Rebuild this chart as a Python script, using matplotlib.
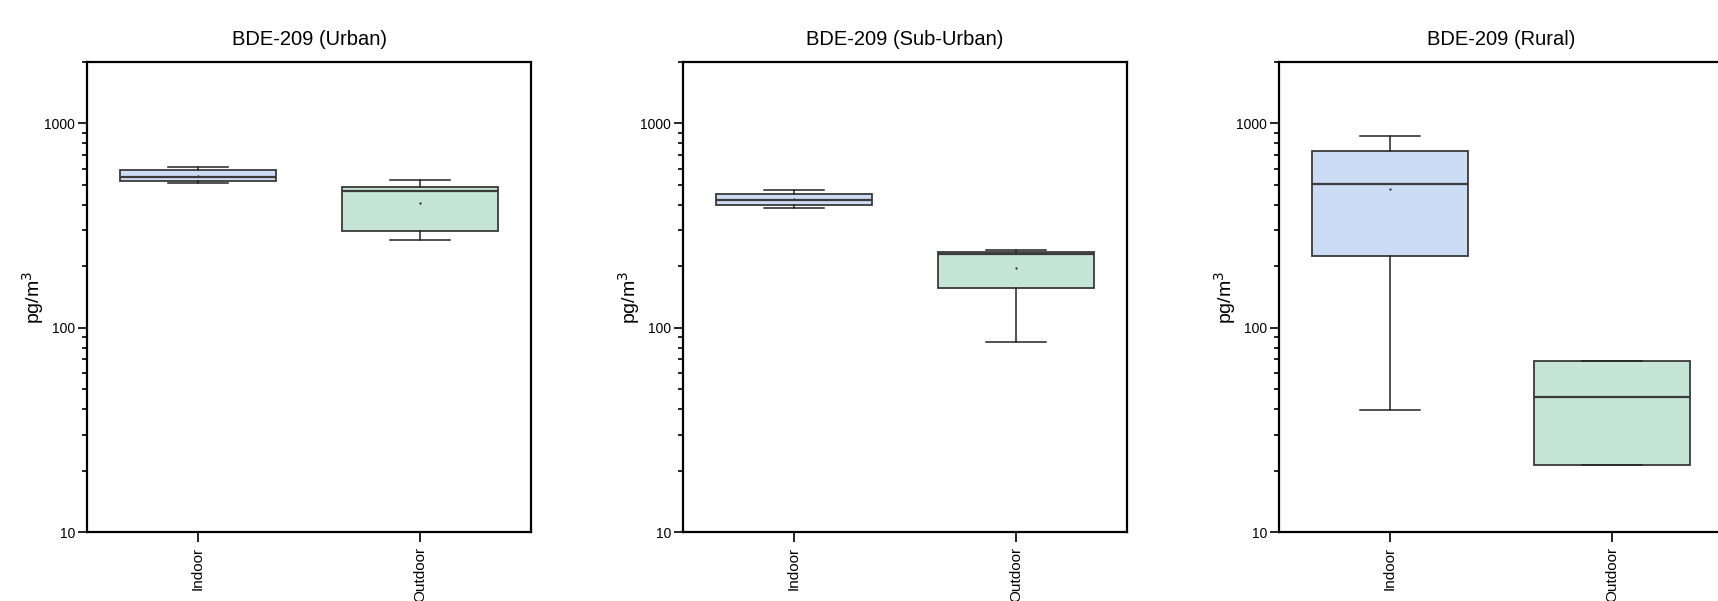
import matplotlib
matplotlib.use("Agg")
import matplotlib.pyplot as plt
from matplotlib.ticker import LogLocator, NullFormatter, FixedLocator, FixedFormatter

plt.rcParams['font.family'] = ['Liberation Sans', 'DejaVu Sans']

# ---- data ----
titles = ["BDE-209 (Urban)", "BDE-209 (Sub-Urban)", "BDE-209 (Rural)"]
categories = ["Indoor", "Outdoor"]
# per panel: [Indoor, Outdoor]
whislo = [[514, 270], [386, 85], [39.4, 21.4]]
q1 = [[525, 298], [398, 156], [224, 21.4]]
med = [[548, 467], [423, 229], [503, 45.6]]
q3 = [[593, 488], [450, 236], [733, 68.8]]
whishi = [[614, 530], [473, 241], [867, 68.8]]
means = [[553, 410], [425, 196], [480, None]]
y_ticks = [10, 100, 1000]
y_ticklabels = ["10", "100", "1000"]

fill_colors = ["#CCDCF4", "#C5E6D6"]
edge_color = "#3a3a3a"

W, H = 1718, 601
fig = plt.figure(figsize=(W / 100, H / 100), dpi=100)

lefts = [87, 683, 1279]
ax_w, ax_top, ax_bot = 444, 62, 532

for p in range(3):
    ax = fig.add_axes([lefts[p] / W, (H - ax_bot) / H, ax_w / W, (ax_bot - ax_top) / H])
    stats = []
    for i in range(2):
        d = dict(whislo=whislo[p][i], q1=q1[p][i], med=med[p][i],
                 q3=q3[p][i], whishi=whishi[p][i], fliers=[])
        stats.append(d)
    bp = ax.bxp(stats, positions=[1, 2], widths=0.7, patch_artist=True,
                showmeans=False, showfliers=False,
                boxprops=dict(edgecolor=edge_color, linewidth=1.3),
                medianprops=dict(color=edge_color, linewidth=1.6),
                whiskerprops=dict(color="#222222", linewidth=1.1),
                capprops=dict(color="#222222", linewidth=1.1),
                capwidths=0.27)
    for patch, c in zip(bp['boxes'], fill_colors):
        patch.set_facecolor(c)
    for i in range(2):
        if means[p][i] is not None:
            ax.plot([i + 1], [means[p][i]], marker='.', markersize=1.0, color='black')

    ax.set_yscale('log')
    ax.set_ylim(10, 2000)
    ax.set_xlim(0.5, 2.5)
    ax.yaxis.set_major_locator(FixedLocator(y_ticks))
    ax.yaxis.set_major_formatter(FixedFormatter(y_ticklabels))
    ax.yaxis.set_minor_locator(LogLocator(base=10, subs=range(2, 10)))
    ax.yaxis.set_minor_formatter(NullFormatter())
    ax.set_xticks([1, 2])
    ax.set_xticklabels(categories, rotation=90, fontsize=11)
    ax.tick_params(axis='y', which='major', direction='out', length=6.5, width=1.2, labelsize=10, pad=2)
    ax.tick_params(axis='y', which='minor', direction='out', length=3.5, width=1.2)
    ax.tick_params(axis='x', which='major', direction='out', length=7, width=1.2, pad=4)
    ax.tick_params(top=False, right=False)
    for s in ax.spines.values():
        s.set_linewidth(1.6)
        s.set_color('black')
    ax.set_ylabel("pg/m$^3$", fontsize=14, labelpad=-1.5)
    ax.set_title(titles[p], fontsize=14.5, pad=12)

fig.savefig("out.png", dpi=100)
